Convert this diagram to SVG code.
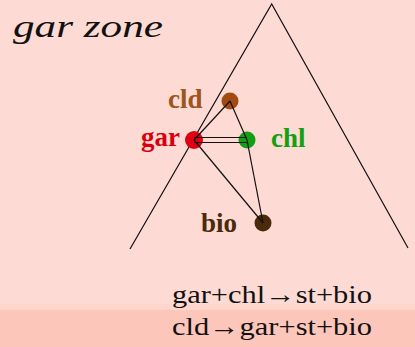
<svg xmlns="http://www.w3.org/2000/svg" width="415" height="347" viewBox="0 0 415 347">
<style>
.lbl{font-weight:bold;font-size:27px}
.eq{font-size:26px;fill:#111}
.ln{stroke:#111;stroke-width:1.2;fill:none}
</style>
<rect x="0" y="0" width="415" height="347" fill="#fddad3"/>
<rect x="0" y="304" width="415" height="6" fill="#ffd6cc"/>
<rect x="0" y="310" width="415" height="37" fill="#fdc6ba"/>
<text x="13" y="37" font-family="Times New Roman" font-style="italic" font-size="32" textLength="150" lengthAdjust="spacingAndGlyphs" fill="#111">gar zone</text>
<g id="triangle"><path class="ln" d="M130,249 L271.7,4 L408,248"/></g>
<g id="node-cld"><circle cx="230" cy="101" r="8.5" fill="#a14b12"/><text class="lbl" font-family="Times New Roman" x="168" y="108" fill="#9c5520">cld</text></g>
<g id="node-gar"><circle cx="194" cy="140" r="9" fill="#e00010"/><text class="lbl" font-family="Times New Roman" x="141" y="146" fill="#d8000e">gar</text></g>
<g id="node-chl"><circle cx="247" cy="140" r="8.5" fill="#12a012"/><text class="lbl" font-family="Times New Roman" x="271" y="147" fill="#12a012">chl</text></g>
<g id="node-bio"><circle cx="263" cy="223" r="8.5" fill="#4a2a0a"/><text class="lbl" font-family="Times New Roman" x="201" y="232" fill="#4a2a0a">bio</text></g>
<g id="connectors">
<line class="ln" x1="194" y1="140" x2="230" y2="101"/>
<line class="ln" x1="230" y1="101" x2="247" y2="140"/>
<line class="ln" x1="247" y1="140" x2="263" y2="223"/>
<line class="ln" x1="194" y1="140" x2="263" y2="223"/>
<line class="ln" x1="194" y1="137.5" x2="247" y2="137.5"/>
<line class="ln" x1="194" y1="142.5" x2="247" y2="142.5"/>
</g>
<text class="eq" font-family="Times New Roman" x="172" y="303" textLength="200" lengthAdjust="spacingAndGlyphs">gar+chl&#8594;st+bio</text>
<text class="eq" font-family="Times New Roman" x="172" y="335" textLength="200" lengthAdjust="spacingAndGlyphs">cld&#8594;gar+st+bio</text>
</svg>
